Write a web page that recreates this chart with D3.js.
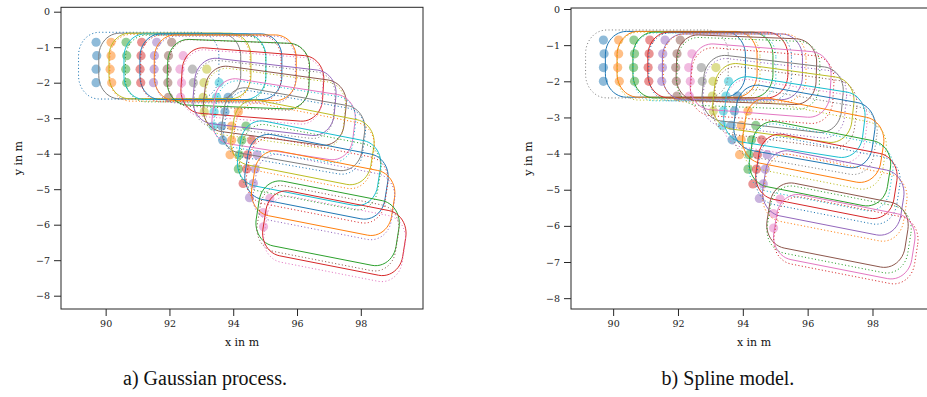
<!DOCTYPE html>
<html><head><meta charset="utf-8">
<script src="https://cdn.jsdelivr.net/npm/d3@7"></script>
<style>body{margin:0;background:#fff;} svg{display:block;}</style>
</head><body>
<svg id="c" width="927" height="397"></svg>
<script>
// ---------------- data ----------------
const palette = ['#1f77b4','#ff7f0e','#2ca02c','#d62728','#9467bd','#8c564b','#e377c2','#7f7f7f','#bcbd22','#17becf'];
const steps = d3.range(17);
const xTicks = [90, 92, 94, 96, 98];
const yTicks = [0, -1, -2, -3, -4, -5, -6, -7, -8];
const captions = ['a) Gaussian process.', 'b) Spline model.'];

// measurement points per time step (x, y in m)
const measX = [
  [89.70, 89.72, 89.70, 89.70],
  [90.17, 90.17, 90.14, 90.19],
  [90.64, 90.66, 90.63, 90.66],
  [91.13, 91.11, 91.08, 91.10],
  [91.60, 91.53, 91.52, 91.50],
  [92.07, 91.97, 91.93, 91.95, 91.97],
  [92.43, 92.33, 92.38, 92.35],
  [92.72, 92.75],
  [93.17, 93.08, 93.06, 93.09],
  [93.56, 93.48, 93.40, 93.37],
  [93.84, 93.74, 93.64, 93.67],
  [94.16, 93.95, 93.95, 93.90],
  [94.40, 94.27, 94.19, 94.16],
  [94.58, 94.45, 94.42, 94.31],
  [94.75, 94.69, 94.63, 94.51],
  [],
  [95.15, 94.94, 94.95]
];
const measY = [
  [-0.86, -1.24, -1.62, -2.00],
  [-0.86, -1.24, -1.62, -2.00],
  [-0.86, -1.24, -1.62, -2.00],
  [-0.86, -1.24, -1.62, -2.00],
  [-0.86, -1.24, -1.62, -2.00],
  [-0.86, -1.24, -1.62, -2.00, -2.41],
  [-1.24, -1.62, -2.00, -2.41],
  [-1.62, -2.00],
  [-1.62, -2.00, -2.41, -2.82],
  [-2.00, -2.41, -2.82, -3.22],
  [-2.41, -2.82, -3.22, -3.62],
  [-2.82, -3.22, -3.62, -4.03],
  [-3.22, -3.62, -4.03, -4.43],
  [-3.62, -4.03, -4.43, -4.84],
  [-4.03, -4.43, -4.84, -5.24],
  [],
  [-5.26, -5.66, -6.06]
];

// reference (true) extent, dotted in both panels
const trueX = [91.35, 92.33, 92.82, 93.30, 93.75, 94.17, 94.60, 94.98, 95.30, 95.62, 95.92, 96.20, 96.41, 96.63, 96.84, 96.97, 97.18];
const trueY = [-1.52, -1.58, -1.60, -1.60, -1.63, -1.78, -2.12, -2.47, -2.72, -3.10, -3.40, -3.78, -4.38, -4.75, -5.22, -6.10, -6.40];
const trueHeading = [0, 0, 0, 0, 0, -2, -4, -6, -7, -8, -9, -10, -10, -10, -10, -10, -10];
const trueSize = [4.40, 1.88]; // length, width in m

// Gaussian process estimate
const gpX = [92.01, 92.33, 92.80, 93.30, 93.75, 94.16, 94.60, 94.98, 95.30, 95.58, 95.88, 96.17, 96.38, 96.61, 96.82, 96.96, 97.17];
const gpY = [-1.53, -1.53, -1.55, -1.55, -1.58, -1.76, -2.05, -2.40, -2.65, -3.03, -3.31, -3.68, -4.27, -4.65, -5.11, -5.96, -6.24];
const gpHeading = [0, 0, 0, 0, 0, -2, -4, -6, -7, -8, -9, -10, -10, -10, -10, -10, -10];
const gpSize = [4.45, 1.85];

// Spline model estimate
const splX = [91.92, 92.28, 92.77, 93.23, 93.68, 94.11, 94.55, 94.92, 95.25, 95.59, 95.90, 96.17, 96.38, 96.58, 96.79, 96.92, 97.13];
const splY = [-1.53, -1.53, -1.55, -1.55, -1.60, -1.68, -1.98, -2.35, -2.60, -2.99, -3.25, -3.63, -4.28, -4.63, -5.09, -5.98, -6.30];
const splHeading = [0, 0, 0, 0, 0, -2, -4, -6, -7, -8, -9, -10, -10, -10, -10, -10, -10];
const splSize = [4.32, 1.82];

const cornerRadius = 0.65;

// ---------------- drawing ----------------
const svg = d3.select('#c');
const FONT = "'DejaVu Serif', serif";
const AX = '#262626';

function outline(cx, cy, hd, L, W, r) {
  const a = L / 2, b = W / 2, th = hd * Math.PI / 180, c = Math.cos(th), s = Math.sin(th);
  const cs = [[a - r, b - r, 0], [-(a - r), b - r, 90], [-(a - r), -(b - r), 180], [a - r, -(b - r), 270]];
  const pts = [];
  cs.forEach(([ox, oy, st]) => {
    for (let i = 0; i <= 12; i++) {
      const ang = (st + 7.5 * i) * Math.PI / 180;
      const lx = ox + r * Math.cos(ang), ly = oy + r * Math.sin(ang);
      pts.push([cx + lx * c - ly * s, cy + lx * s + ly * c]);
    }
  });
  return pts;
}

const panels = [
  { id: 'gp', box: [61, 7.3, 423, 309], xd: [88.60, 99.95], yd: [-8.375, 0.124],
    estX: gpX, estY: gpY, estH: gpHeading, estS: gpSize,
    estColor: k => palette[(k + 7) % 10], trueColor: k => palette[k % 10],
    ylabX: 18, capX: 205, caption: captions[0] },
  { id: 'sp', box: [571, 8, 937, 309], xd: [88.70, 99.99], yd: [-8.30, 0.028],
    estX: splX, estY: splY, estH: splHeading, estS: splSize,
    estColor: k => palette[k % 10], trueColor: k => palette[(k + 7) % 10],
    ylabX: 528, capX: 728, caption: captions[1] }
];

panels.forEach(p => {
  const [x0, y0, x1, y1] = p.box;
  const x = d3.scaleLinear().domain(p.xd).range([x0, x1]);
  const y = d3.scaleLinear().domain(p.yd).range([y1, y0]);
  const line = d3.line().x(d => x(d[0])).y(d => y(d[1])).curve(d3.curveLinearClosed);

  svg.append('clipPath').attr('id', 'clip-' + p.id)
    .append('rect').attr('x', x0).attr('y', y0).attr('width', x1 - x0).attr('height', y1 - y0);
  const g = svg.append('g').attr('clip-path', `url(#clip-${p.id})`);

  // measurements
  steps.forEach(k => {
    measX[k].forEach((mx, i) => {
      g.append('circle').attr('cx', x(mx)).attr('cy', y(measY[k][i])).attr('r', 4.6)
        .attr('fill', palette[k % 10]).attr('fill-opacity', 0.5);
    });
  });
  // contours
  steps.forEach(k => {
    g.append('path').attr('d', line(outline(p.estX[k], p.estY[k], p.estH[k], p.estS[0], p.estS[1], cornerRadius)))
      .attr('fill', 'none').attr('stroke', p.estColor(k)).attr('stroke-width', 1);
    g.append('path').attr('d', line(outline(trueX[k], trueY[k], trueHeading[k], trueSize[0], trueSize[1], cornerRadius)))
      .attr('fill', 'none').attr('stroke', p.trueColor(k)).attr('stroke-width', 1)
      .attr('stroke-dasharray', '1.1,2.3');
  });

  // frame
  svg.append('rect').attr('x', x0).attr('y', y0).attr('width', x1 - x0).attr('height', y1 - y0)
    .attr('fill', 'none').attr('stroke', AX).attr('stroke-width', 1);

  // axes
  const xa = svg.append('g').attr('transform', `translate(0,${y1})`)
    .call(d3.axisBottom(x).tickValues(xTicks).tickSize(7).tickPadding(4).tickFormat(d3.format('d')));
  const ya = svg.append('g').attr('transform', `translate(${x0},0)`)
    .call(d3.axisLeft(y).tickValues(yTicks).tickSize(7).tickPadding(4).tickFormat(d => d < 0 ? '\u2212' + Math.abs(d) : String(d)));
  [xa, ya].forEach(a => {
    a.select('.domain').remove();
    a.selectAll('line').attr('stroke', AX).attr('stroke-width', 1);
    a.selectAll('text').attr('font-family', FONT).attr('font-size', 9.5).attr('fill', '#222');
  });

  svg.append('text').attr('x', (x0 + Math.min(x1, 939)) / 2).attr('y', 346)
    .attr('text-anchor', 'middle').attr('font-family', FONT).attr('font-size', 11).attr('fill', '#111')
    .text('x in m');
  svg.append('text').attr('transform', `translate(${p.ylabX},${(y0 + y1) / 2}) rotate(-90)`)
    .attr('text-anchor', 'middle').attr('dominant-baseline', 'central')
    .attr('font-family', FONT).attr('font-size', 11).attr('fill', '#111').text('y in m');

  svg.append('text').attr('x', p.capX).attr('y', 385).attr('text-anchor', 'middle')
    .attr('font-family', "'Liberation Serif', serif").attr('font-size', 20).attr('fill', '#111')
    .text(p.caption);
});
</script>
</body></html>
